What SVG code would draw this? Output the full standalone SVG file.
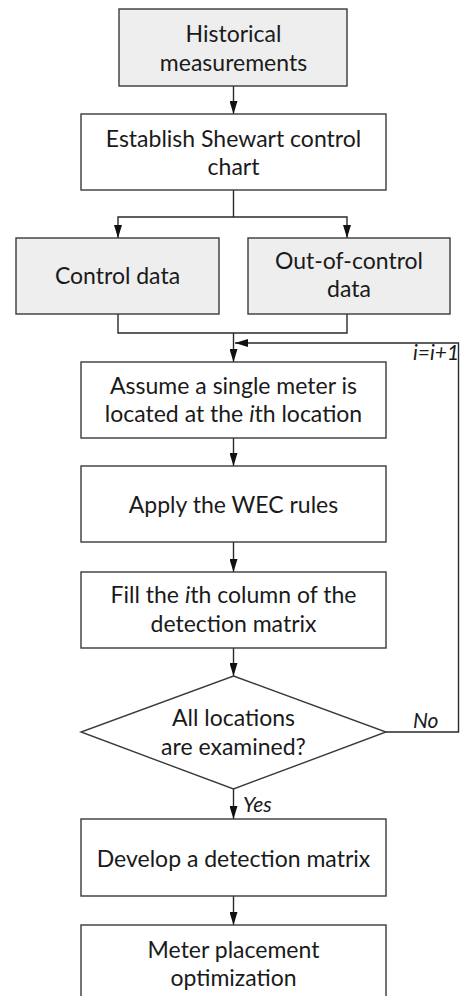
<svg xmlns="http://www.w3.org/2000/svg" width="460" height="996" viewBox="0 0 460 996">
<style>
.box{fill:#ffffff;stroke:#3a3a3a;stroke-width:1.4}
.grey{fill:#eeeeee}
.t{font-family:Lato,"Liberation Sans",sans-serif;font-size:23px;fill:#1a1a1a;text-anchor:middle}
.lbl{font-family:Lato,"Liberation Sans",sans-serif;font-size:21px;font-style:italic;fill:#1a1a1a}
.c{fill:none;stroke:#2a2a2a;stroke-width:1.4}
</style>
<defs>
<marker id="ah" viewBox="0 0 13 8" refX="13" refY="4" markerWidth="13" markerHeight="8" markerUnits="userSpaceOnUse" orient="auto">
<path d="M0,0 L13,4 L0,8 z" fill="#111"/>
</marker>
</defs>
<rect width="460" height="996" fill="#ffffff"/>
<g id="connectors">
<line class="c" x1="233.5" y1="86" x2="233.5" y2="114" marker-end="url(#ah)"/>
<polyline class="c" points="233.5,190 233.5,217 118,217 118,238" marker-end="url(#ah)"/>
<polyline class="c" points="233.5,217 347,217 347,238" marker-end="url(#ah)"/>
<polyline class="c" points="118,314 118,333 347,333 347,314"/>
<line class="c" x1="233.5" y1="333" x2="233.5" y2="362" marker-end="url(#ah)"/>
<line class="c" x1="233.5" y1="438" x2="233.5" y2="466" marker-end="url(#ah)"/>
<line class="c" x1="233.5" y1="542" x2="233.5" y2="572" marker-end="url(#ah)"/>
<line class="c" x1="233.5" y1="648" x2="233.5" y2="676" marker-end="url(#ah)"/>
<line class="c" x1="233.5" y1="789" x2="233.5" y2="819" marker-end="url(#ah)"/>
<line class="c" x1="233.5" y1="896" x2="233.5" y2="925" marker-end="url(#ah)"/>
<polyline class="c" points="386,732 458.5,732 458.5,343 235,343" marker-end="url(#ah)"/>
<text class="lbl" x="413" y="360">i=i+1</text>
<text class="lbl" x="413" y="728">No</text>
<text class="lbl" x="243" y="812">Yes</text>
</g>
<g id="n1">
<rect class="box grey" x="119" y="9" width="228" height="77"/>
<text class="t" x="233.5" y="42">Historical</text>
<text class="t" x="233.5" y="71">measurements</text>
</g>
<g id="n2">
<rect class="box" x="81" y="114" width="305" height="76"/>
<text class="t" x="233.5" y="147">Establish Shewart control</text>
<text class="t" x="233.5" y="175">chart</text>
</g>
<g id="n3">
<rect class="box grey" x="16" y="238" width="203" height="76"/>
<text class="t" x="117.5" y="284">Control data</text>
</g>
<g id="n4">
<rect class="box grey" x="248" y="238" width="202" height="76"/>
<text class="t" x="349" y="269">Out-of-control</text>
<text class="t" x="349" y="297">data</text>
</g>
<g id="n5">
<rect class="box" x="81" y="362" width="305" height="76"/>
<text class="t" x="233.5" y="394">Assume a single meter is</text>
<text class="t" x="233.5" y="422">located at the <tspan font-style="italic">i</tspan>th location</text>
</g>
<g id="n6">
<rect class="box" x="81" y="466" width="305" height="76"/>
<text class="t" x="233.5" y="513">Apply the WEC rules</text>
</g>
<g id="n7">
<rect class="box" x="81" y="572" width="305" height="76"/>
<text class="t" x="233.5" y="603">Fill the <tspan font-style="italic">i</tspan>th column of the</text>
<text class="t" x="233.5" y="632">detection matrix</text>
</g>
<g id="n8">
<polygon class="box" points="233.5,676 386,732 233.5,789 81,732"/>
<text class="t" x="233.5" y="726">All locations</text>
<text class="t" x="233.5" y="755">are examined?</text>
</g>
<g id="n9">
<rect class="box" x="81" y="819" width="305" height="77"/>
<text class="t" x="233.5" y="867">Develop a detection matrix</text>
</g>
<g id="n10">
<rect class="box" x="81" y="925" width="305" height="78"/>
<text class="t" x="233.5" y="958">Meter placement</text>
<text class="t" x="233.5" y="986">optimization</text>
</g>
</svg>
